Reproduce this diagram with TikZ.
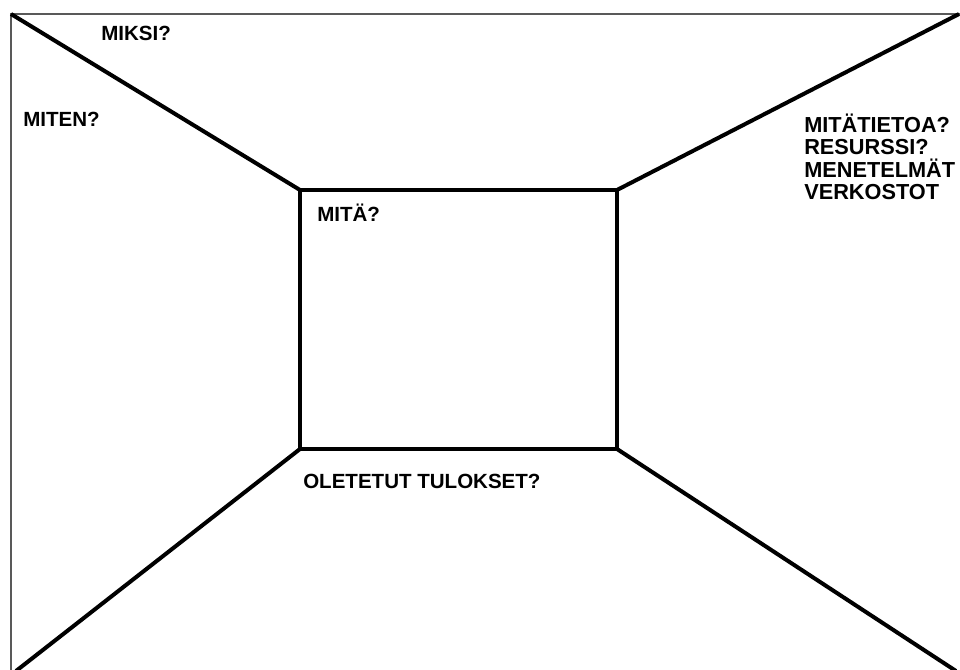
\documentclass[tikz,border=0pt]{standalone}
\usepackage{fontspec}
\setmainfont{Liberation Sans}
\usetikzlibrary{positioning}

\begin{document}
\begin{tikzpicture}[
    x=0.75pt, y=-0.75pt,
    wall/.style={line width=3pt, black, line join=miter},
    frame/.style={line width=0.9pt, black!65},
    lbl/.style={anchor=base west, inner sep=0pt, font=\bfseries\fontsize{15.4}{16.9}\selectfont, align=left}
]
\useasboundingbox (0,0) rectangle (960,670);

% Outer frame
\draw[frame] (960,14) -- (11,14) -- (11,670);

% Room corners
\coordinate (tl) at (300,190);
\coordinate (tr) at (617,190);
\coordinate (br) at (617,449);
\coordinate (bl) at (300,449);

% Back wall and edges
\draw[wall] (tl) rectangle (br);
\draw[wall] (11,14) -- (tl);
\draw[wall] (959,14) -- (tr);
\draw[wall] (bl) -- (16,671);
\draw[wall] (br) -- (956,671);

% Labels
\node[lbl] (miksi) at (101,41) {MIKSI?};
\node[lbl] (miten) at (23,127) {MITEN?};
\node[lbl] (mita) at (317,222) {MITÄ?};
\node[lbl] (tulos) at (303,488) {OLETETUT TULOKSET?};
\node[lbl, font=\bfseries\fontsize{16.3}{16.9}\selectfont] (tieto) at (804,200)
    {MITÄTIETOA?\\RESURSSI?\\MENETELMÄT\\VERKOSTOT};

\end{tikzpicture}
\end{document}
